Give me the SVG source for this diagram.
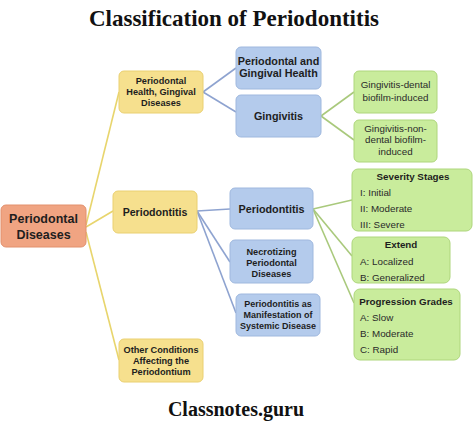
<svg xmlns="http://www.w3.org/2000/svg" width="474" height="429" viewBox="0 0 474 429">
<style>
.t{font-family:"Liberation Serif","Times New Roman",serif;font-weight:bold;fill:#111;text-anchor:middle}
.b{font-family:"Liberation Sans",Arial,sans-serif;font-weight:bold;fill:#1e1e1e;text-anchor:middle}
.r{font-family:"Liberation Sans",Arial,sans-serif;fill:#2a2a2a}
.sal{fill:#f0a482;stroke:#e2906d;stroke-width:1}
.yel{fill:#f6e08e;stroke:#ead071;stroke-width:1}
.blu{fill:#b4cbec;stroke:#9fb8de;stroke-width:1}
.grn{fill:#c9ec9c;stroke:#aed67c;stroke-width:1}
.cy{stroke:#e8d56d;stroke-width:1.6;fill:none}
.cb{stroke:#8ea3d0;stroke-width:1.6;fill:none}
.cg{stroke:#a9c97c;stroke-width:1.6;fill:none}
</style>
<rect width="474" height="429" fill="#ffffff"/>
<text class="t" x="234" y="26" font-size="23">Classification of Periodontitis</text>
<text class="t" x="236" y="416" font-size="20">Classnotes.guru</text>
<g id="connectors">
<line class="cy" x1="86" y1="225" x2="119" y2="92"/>
<line class="cy" x1="86" y1="227" x2="113" y2="211"/>
<line class="cy" x1="86" y1="232" x2="119" y2="360"/>
<line class="cb" x1="203" y1="92" x2="236" y2="68"/>
<line class="cb" x1="203" y1="92" x2="236" y2="112"/>
<line class="cb" x1="197" y1="211" x2="230" y2="209"/>
<line class="cb" x1="197" y1="211" x2="230" y2="262"/>
<line class="cb" x1="197" y1="211" x2="236" y2="313"/>
<line class="cg" x1="321" y1="116" x2="354" y2="92"/>
<line class="cg" x1="321" y1="116" x2="354" y2="140"/>
<line class="cg" x1="313" y1="209" x2="352" y2="200"/>
<line class="cg" x1="313" y1="209" x2="352" y2="256"/>
<line class="cg" x1="313" y1="209" x2="354" y2="303"/>
</g>
<g id="periodontal-diseases">
<rect class="sal" x="1" y="205" width="85" height="42" rx="5"/>
<text class="b" x="43.5" y="223" font-size="12.5">Periodontal</text>
<text class="b" x="43.5" y="239" font-size="12.5">Diseases</text>
</g>
<g id="health-gingival">
<rect class="yel" x="119" y="71" width="84" height="42" rx="5"/>
<text class="b" x="161" y="84" font-size="9.2">Periodontal</text>
<text class="b" x="161" y="95" font-size="9.2">Health, Gingival</text>
<text class="b" x="161" y="106" font-size="9.2">Diseases</text>
</g>
<g id="periodontitis-cat">
<rect class="yel" x="113" y="191" width="84" height="42" rx="5"/>
<text class="b" x="155" y="216" font-size="10.6">Periodontitis</text>
</g>
<g id="other-conditions">
<rect class="yel" x="119" y="339" width="84" height="43" rx="5"/>
<text class="b" x="161" y="353" font-size="9.2">Other Conditions</text>
<text class="b" x="161" y="364" font-size="9.2">Affecting the</text>
<text class="b" x="161" y="375" font-size="9.2">Periodontium</text>
</g>
<g id="health">
<rect class="blu" x="236" y="47" width="85" height="42" rx="5"/>
<text class="b" x="278.5" y="65" font-size="10.8">Periodontal and</text>
<text class="b" x="278.5" y="77" font-size="10.8">Gingival Health</text>
</g>
<g id="gingivitis">
<rect class="blu" x="236" y="95" width="85" height="42" rx="5"/>
<text class="b" x="278.5" y="120" font-size="10.8">Gingivitis</text>
</g>
<g id="periodontitis">
<rect class="blu" x="230" y="188" width="83" height="41" rx="5"/>
<text class="b" x="271.5" y="213" font-size="10.8">Periodontitis</text>
</g>
<g id="necrotizing">
<rect class="blu" x="230" y="240" width="83" height="43" rx="5"/>
<text class="b" x="271.5" y="255" font-size="9.2">Necrotizing</text>
<text class="b" x="271.5" y="266" font-size="9.2">Periodontal</text>
<text class="b" x="271.5" y="277" font-size="9.2">Diseases</text>
</g>
<g id="systemic">
<rect class="blu" x="236" y="294" width="84" height="42" rx="5"/>
<text class="b" x="278" y="307" font-size="9">Periodontitis as</text>
<text class="b" x="278" y="318" font-size="9">Manifestation of</text>
<text class="b" x="278" y="329" font-size="9">Systemic Disease</text>
</g>
<g id="dental-biofilm">
<rect class="grn" x="354" y="71" width="83" height="42" rx="5"/>
<text class="r" x="395.5" y="88" font-size="9.8" text-anchor="middle">Gingivitis-dental</text>
<text class="r" x="395.5" y="101" font-size="9.8" text-anchor="middle">biofilm-induced</text>
</g>
<g id="non-dental-biofilm">
<rect class="grn" x="354" y="120" width="83" height="42" rx="5"/>
<text class="r" x="395.5" y="132" font-size="9.8" text-anchor="middle">Gingivitis-non-</text>
<text class="r" x="395.5" y="143" font-size="9.8" text-anchor="middle">dental biofilm-</text>
<text class="r" x="395.5" y="155" font-size="9.8" text-anchor="middle">induced</text>
</g>
<g id="severity">
<rect class="grn" x="352" y="169" width="120" height="62" rx="6"/>
<text class="b" x="413" y="180" font-size="9.8">Severity Stages</text>
<text class="r" x="360" y="196" font-size="9.8">I: Initial</text>
<text class="r" x="360" y="212" font-size="9.8">II: Moderate</text>
<text class="r" x="360" y="228" font-size="9.8">III: Severe</text>
</g>
<g id="extend">
<rect class="grn" x="352" y="237" width="98" height="46" rx="6"/>
<text class="b" x="401" y="248" font-size="9.8">Extend</text>
<text class="r" x="360" y="265" font-size="9.8">A: Localized</text>
<text class="r" x="360" y="281" font-size="9.8">B: Generalized</text>
</g>
<g id="progression">
<rect class="grn" x="354" y="289" width="106" height="71" rx="6"/>
<text class="b" x="406" y="305" font-size="9.8">Progression Grades</text>
<text class="r" x="360" y="321" font-size="9.8">A: Slow</text>
<text class="r" x="360" y="337" font-size="9.8">B: Moderate</text>
<text class="r" x="360" y="353" font-size="9.8">C: Rapid</text>
</g>
</svg>
